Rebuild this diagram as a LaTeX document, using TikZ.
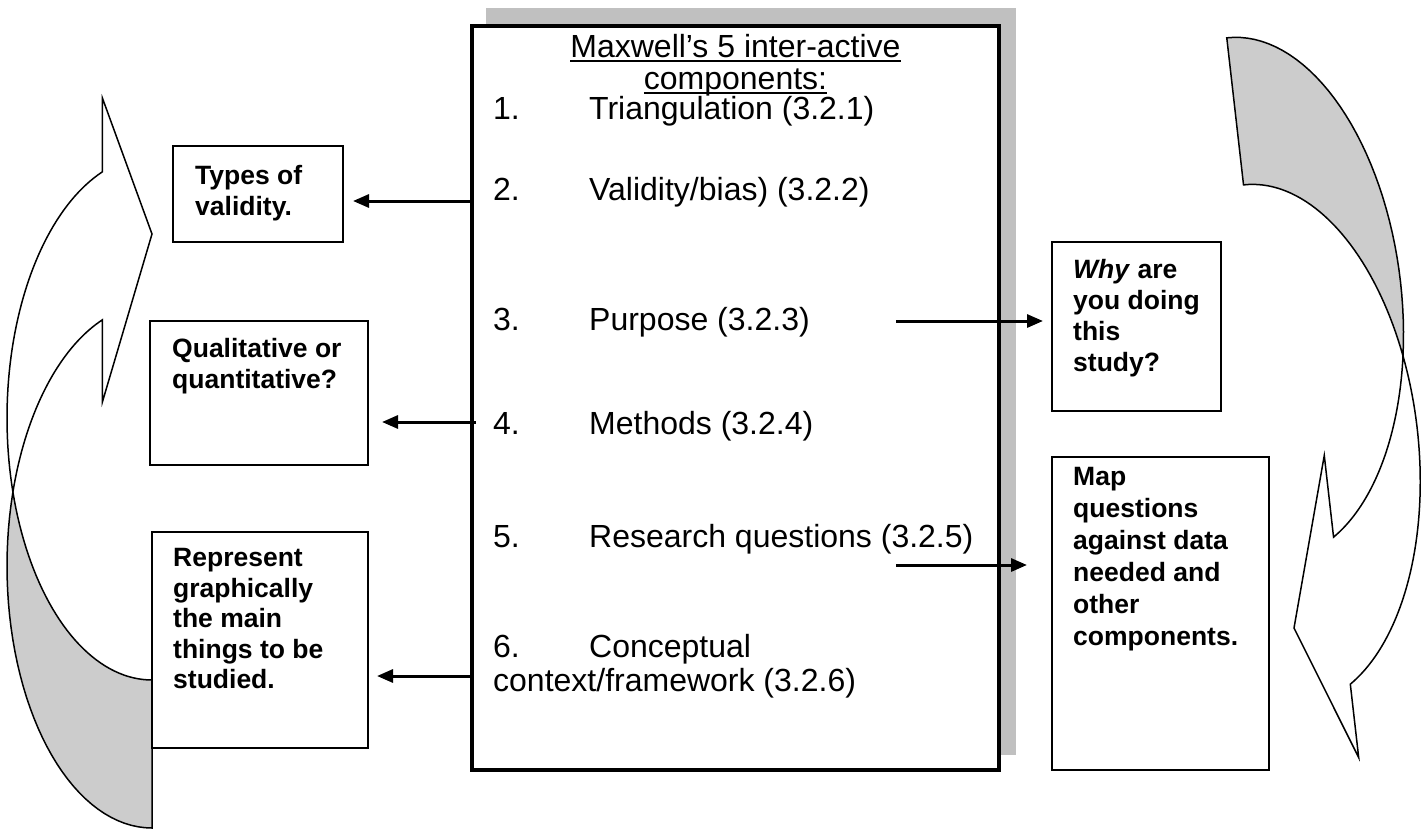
\documentclass[tikz,border=0pt]{standalone}
\usepackage{fontspec}
\setmainfont{Liberation Sans}
\usetikzlibrary{arrows.meta}
\definecolor{backgray}{HTML}{CCCCCC}
\definecolor{shadowgray}{HTML}{C0C0C0}
\newcommand{\myul}[1]{\setbox0=\hbox{#1}\rlap{\rule[-4.5pt]{\wd0}{2pt}}\box0}
\newcommand{\cvarrowshape}{%
  \filldraw[arrowface, fill=backgray]
    plot[domain=163.6:90, samples=40] ({152+145*cos(\x)}, {418+262*sin(\x)})
    -- plot[domain=90:196.4, samples=40] ({152+145*cos(\x)}, {566+262*sin(\x)}) -- cycle;
  \filldraw[arrowface, fill=white]
    plot[domain=250:163.6, samples=50] ({152+145*cos(\x)}, {418+262*sin(\x)})
    -- plot[domain=196.4:250, samples=40] ({152+145*cos(\x)}, {566+262*sin(\x)})
    -- (102.4,402) -- (152,234) -- (102.4,98) -- cycle;
}
\begin{document}
\begin{tikzpicture}[x=1pt,y=-1pt,
  mtext/.style={font=\fontsize{32}{36}\selectfont, inner sep=0pt},
  btext/.style={font=\fontsize{26.5}{31}\selectfont\bfseries, inner sep=0pt, anchor=north west, align=left},
  smallbox/.style={draw=black, line width=1.5pt, fill=white, anchor=north west, outer sep=0pt, inner sep=0pt},
  arrowface/.style={draw=black, line width=1.5pt, line join=miter},
  conn/.style={line width=3pt, -{Triangle[length=16pt,width=13pt]}},
]
\useasboundingbox (0,0) rectangle (1421,830);
% curved arrows
\cvarrowshape
\begin{scope}[shift={(1294,628)}, rotate=186.5, shift={(-152,-234)}]
\cvarrowshape
\end{scope}
% shadow and main box
\fill[shadowgray] (486,8) rectangle (1016,755);
\node[draw=black, line width=4pt, fill=white, anchor=north west, outer sep=0pt, inner sep=0pt,
      minimum width=527pt, minimum height=744.5pt] (main) at (472,25.5) {};
% main texts
\node[mtext, anchor=base] (title1) at (735.5,57) {\myul{Maxwell’s 5 inter-active}};
\node[mtext, anchor=base] (title2) at (735.5,89) {\myul{components:}};
\node[mtext, anchor=base west] (it1) at (493,119) {\makebox[96pt][l]{1.}Triangulation (3.2.1)};
\node[mtext, anchor=base west] (it2) at (493,200) {\makebox[96pt][l]{2.}Validity/bias) (3.2.2)};
\node[mtext, anchor=base west] (it3) at (493,330) {\makebox[96pt][l]{3.}Purpose (3.2.3)};
\node[mtext, anchor=base west] (it4) at (493,434) {\makebox[96pt][l]{4.}Methods (3.2.4)};
\node[mtext, anchor=base west] (it5) at (493,547) {\makebox[96pt][l]{5.}Research questions (3.2.5)};
\node[mtext, anchor=base west] (it6) at (493,657) {\makebox[96pt][l]{6.}Conceptual};
\node[mtext, anchor=base west] (it6b) at (493,691) {context/framework (3.2.6)};
% side boxes
\node[smallbox, minimum width=170pt, minimum height=96pt] (types) at (173,146) {};
\node[smallbox, minimum width=218pt, minimum height=144pt] (qual) at (150,321) {};
\node[smallbox, minimum width=216pt, minimum height=216pt] (repr) at (152,532) {};
\node[smallbox, minimum width=169pt, minimum height=169pt] (why) at (1052,242) {};
\node[smallbox, minimum width=217pt, minimum height=313pt] (map) at (1052,457) {};
\node[btext] (typest) at (195,165.5) {Types of\\validity.};
\node[btext] (qualt) at (172,338.5) {Qualitative or\\quantitative?};
\node[btext, font=\fontsize{26.5}{30.5}\selectfont\bfseries] (reprt) at (173,548.5) {Represent\\graphically\\the main\\things to be\\studied.};
\node[btext] (whyt) at (1073,259.5) {\textit{Why} are\\you doing\\this\\study?};
\node[btext, font=\fontsize{26.5}{32}\selectfont\bfseries] (mapt) at (1073,467.5) {Map\\questions\\against data\\needed and\\other\\components.};
% connectors
\coordinate (a1s) at (472,201); \coordinate (a1e) at (353,201);
\coordinate (a2s) at (476,422); \coordinate (a2e) at (382,422);
\coordinate (a3s) at (472,676); \coordinate (a3e) at (377,676);
\coordinate (a4s) at (896,321); \coordinate (a4e) at (1043,321);
\coordinate (a5s) at (896,565); \coordinate (a5e) at (1027,565);
\draw[conn] (a1s) -- (a1e);
\draw[conn] (a2s) -- (a2e);
\draw[conn] (a3s) -- (a3e);
\draw[conn] (a4s) -- (a4e);
\draw[conn] (a5s) -- (a5e);
\end{tikzpicture}
\end{document}
